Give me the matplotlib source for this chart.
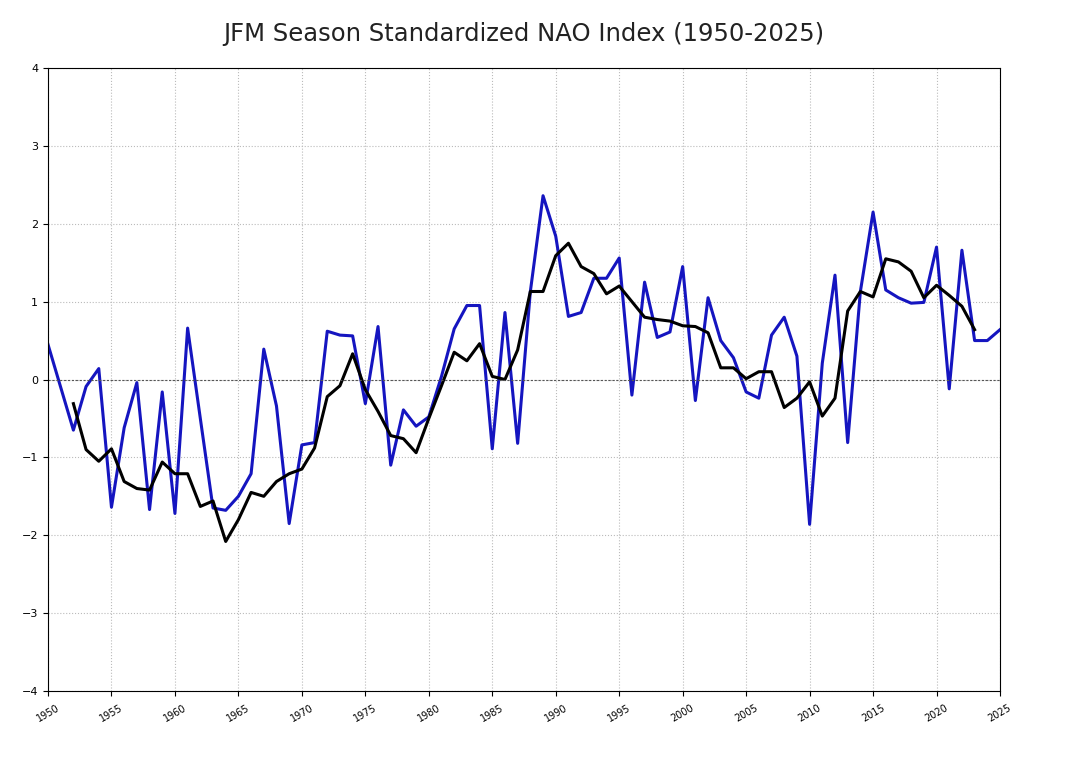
import matplotlib
matplotlib.use("Agg")
import matplotlib.pyplot as plt

years = list(range(1950, 2026))

nao_jfm = [
    0.45, -0.10, -0.65, -0.09, 0.14, -1.64, -0.62, -0.04, -1.67, -0.16,
    -1.72, 0.66, -0.50, -1.65, -1.68, -1.50, -1.21, 0.39, -0.34, -1.85,
    -0.84, -0.81, 0.62, 0.57, 0.56, -0.31, 0.68, -1.10, -0.39, -0.60,
    -0.48, 0.04, 0.65, 0.95, 0.95, -0.89, 0.86, -0.82, 1.13, 2.36,
    1.84, 0.81, 0.86, 1.30, 1.30, 1.56, -0.20, 1.25, 0.54, 0.61,
    1.45, -0.27, 1.05, 0.50, 0.28, -0.16, -0.24, 0.57, 0.80, 0.30,
    -1.86, 0.21, 1.34, -0.81, 1.13, 2.15, 1.15, 1.05, 0.98, 0.99,
    1.70, -0.12, 1.66, 0.50, 0.50, 0.64,
]

# running mean, available 1952-2023
smooth_years = list(range(1952, 2024))
nao_smooth = [
    -0.31, -0.90, -1.05, -0.89, -1.31, -1.40, -1.42, -1.06, -1.21, -1.21,
    -1.63, -1.56, -2.08, -1.80, -1.45, -1.50, -1.31, -1.21, -1.15, -0.88,
    -0.22, -0.08, 0.33, -0.13, -0.41, -0.72, -0.76, -0.94, -0.50, -0.08,
    0.35, 0.24, 0.46, 0.04, 0.00, 0.38, 1.13, 1.13, 1.59, 1.75,
    1.45, 1.36, 1.10, 1.20, 1.00, 0.80, 0.77, 0.75, 0.69, 0.68,
    0.60, 0.15, 0.15, 0.01, 0.10, 0.10, -0.36, -0.24, -0.03, -0.47,
    -0.24, 0.88, 1.13, 1.06, 1.55, 1.51, 1.39, 1.05, 1.21, 1.08,
    0.94, 0.64,
]

fig = plt.figure(figsize=(10.72, 7.64), dpi=100)
ax = fig.add_axes([48 / 1072, 1 - 691 / 764, 952 / 1072, 623 / 764])

ax.plot(years, nao_jfm, color="#1515c0", lw=2.2)
ax.plot(smooth_years, nao_smooth, color="black", lw=2.2)
ax.axhline(0, color="#555555", lw=0.8, ls=(0, (2, 1.5)))

ax.set_xlim(1950, 2025)
ax.set_ylim(-4, 4)
ax.set_xticks(range(1950, 2026, 5))
ax.set_yticks(range(-4, 5))
ax.grid(True, color="#bbbbbb", ls=":", lw=0.8)
ax.tick_params(axis="x", labelsize=7, labelrotation=30, pad=5)
ax.tick_params(axis="y", labelsize=8)

fig.text(0.489, 1 - 34 / 764, "JFM Season Standardized NAO Index (1950-2025)",
         ha="center", va="center", fontsize=17.5, color="#222222")

fig.savefig("out.png", dpi=100)
